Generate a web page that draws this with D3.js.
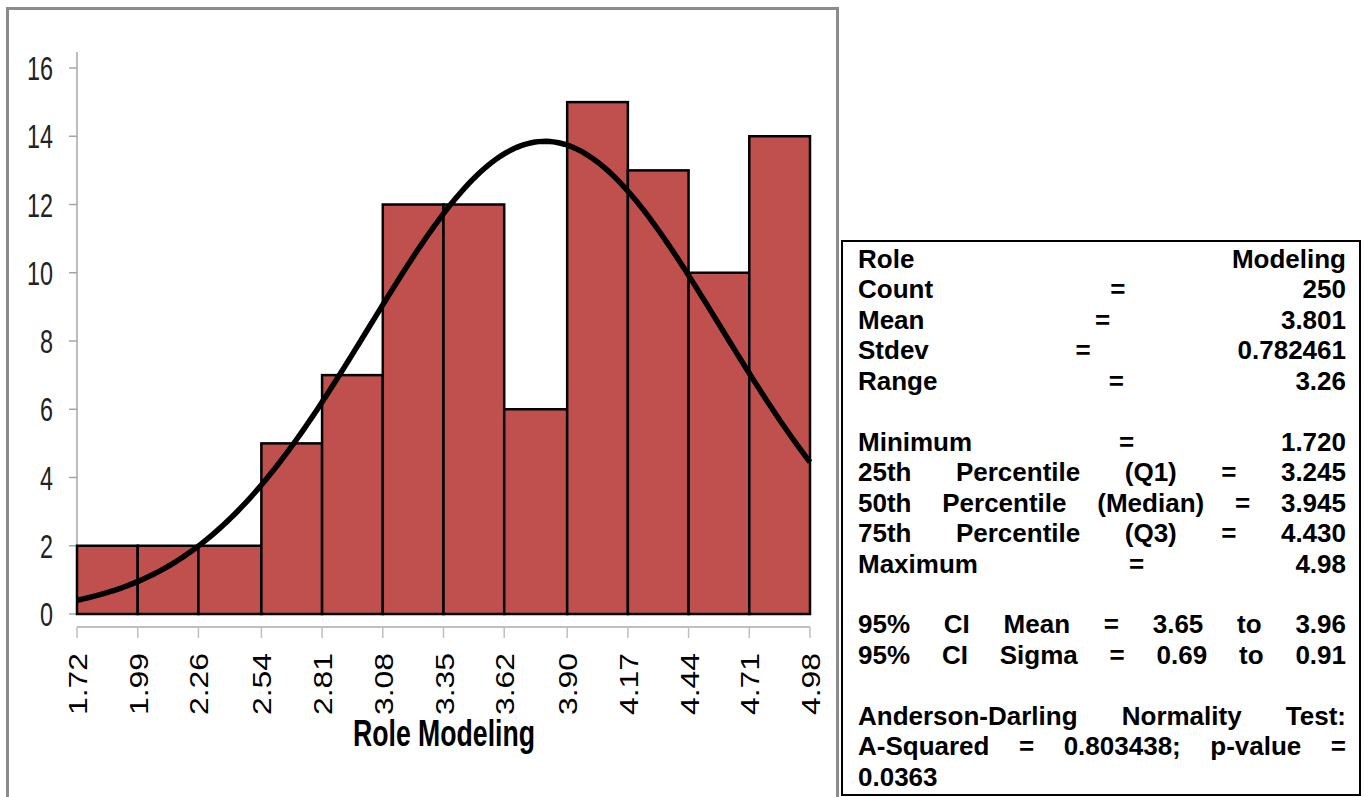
<!DOCTYPE html>
<html>
<head>
<meta charset="utf-8">
<script src="https://cdn.jsdelivr.net/npm/d3@7"></script>
<style>
  body { margin: 0; background: #fff; }
  svg { display: block; }
</style>
</head>
<body>
<svg id="chart" width="1364" height="797"></svg>
<script>
// histogram data
const binEdges = [1.72, 1.99, 2.26, 2.54, 2.81, 3.08, 3.35, 3.62, 3.90, 4.17, 4.44, 4.71, 4.98];
const tickLabels = ["1.72", "1.99", "2.26", "2.54", "2.81", "3.08", "3.35", "3.62", "3.90", "4.17", "4.44", "4.71", "4.98"];
const counts = [2, 2, 2, 5, 7, 12, 12, 6, 15, 13, 10, 14];
const yTicks = [0, 2, 4, 6, 8, 10, 12, 14, 16];
const fitMean = 3.801,
      fitStdev = 0.782461;

// summary box, one entry per printed line ("" = blank line)
const statLines = [
  "Role Modeling",
  "Count = 250",
  "Mean = 3.801",
  "Stdev = 0.782461",
  "Range = 3.26",
  "",
  "Minimum = 1.720",
  "25th Percentile (Q1) = 3.245",
  "50th Percentile (Median) = 3.945",
  "75th Percentile (Q3) = 4.430",
  "Maximum = 4.98",
  "",
  "95% CI Mean = 3.65 to 3.96",
  "95% CI Sigma = 0.69 to 0.91",
  "",
  "Anderson-Darling Normality Test:",
  "A-Squared = 0.803438; p-value =",
  "0.0363"
];

let svg = d3.select("#chart"),
    barColor = "#c0504d",
    axisColor = "#a6a6a6",
    sansFont = "'Liberation Sans', Arial, sans-serif";

// gray frame round the chart
svg.append("rect")
   .attr("x", 7.5).attr("y", 8.5)
   .attr("width", 830).attr("height", 800)
   .attr("fill", "none")
   .attr("stroke", "#8c8c8c")
   .attr("stroke-width", 3);

var x = d3.scaleLinear().domain([binEdges[0], binEdges[binEdges.length - 1]]).range([77, 810]);
var y = d3.scaleLinear().domain([0, 16]).range([614, 68]);

// y axis
let gy = svg.append("g");
gy.append("line")
  .attr("x1", 77).attr("x2", 77)
  .attr("y1", 52).attr("y2", y(0))
  .attr("stroke", axisColor).attr("stroke-width", 1.5);
gy.selectAll(".ytick")
  .data(yTicks)
  .enter()
  .append("line")
  .attr("x1", 69).attr("x2", 77)
  .attr("y1", d => y(d)).attr("y2", d => y(d))
  .attr("stroke", axisColor).attr("stroke-width", 1.5);
gy.selectAll(".ylab")
  .data(yTicks)
  .enter()
  .append("text")
  .attr("x", 53)
  .attr("y", d => y(d))
  .attr("dy", "0.36em")
  .attr("text-anchor", "end")
  .style("font-family", sansFont)
  .style("font-size", "34px")
  .attr("textLength", d => String(d).length * 13)
  .attr("lengthAdjust", "spacingAndGlyphs")
  .attr("fill", "#222")
  .text(d => d);

// bars
let bins = counts.map((c, i) => ({x0: binEdges[i], x1: binEdges[i + 1], n: c}));
svg.selectAll(".bar")
   .data(bins)
   .enter()
   .append("rect")
   .attr("class", "bar")
   .attr("x", d => x(d.x0))
   .attr("y", d => y(d.n))
   .attr("width", d => x(d.x1) - x(d.x0))
   .attr("height", d => y(0) - y(d.n))
   .attr("fill", barColor)
   .attr("stroke", "#000")
   .attr("stroke-width", 2.5);

// x axis sits a bit below the bars
let gx = svg.append("g");
gx.append("line")
  .attr("x1", x(binEdges[0])).attr("x2", x(binEdges[binEdges.length - 1]))
  .attr("y1", 627).attr("y2", 627)
  .attr("stroke", "#bfbfbf").attr("stroke-width", 2);
gx.selectAll(".xtick")
  .data(binEdges)
  .enter()
  .append("line")
  .attr("x1", d => x(d)).attr("x2", d => x(d))
  .attr("y1", 627).attr("y2", 638)
  .attr("stroke", "#bfbfbf").attr("stroke-width", 1.5);
gx.selectAll(".xlab")
  .data(binEdges)
  .enter()
  .append("text")
  .attr("transform", d => "translate(" + (x(d) + 1) + ",653) rotate(-90)")
  .attr("dy", "0.36em")
  .attr("text-anchor", "end")
  .style("font-family", sansFont)
  .style("font-size", "25px")
  .attr("textLength", 62)
  .attr("lengthAdjust", "spacingAndGlyphs")
  .attr("fill", "#000")
  .text((d, i) => tickLabels[i]);

svg.append("text")
   .attr("x", 444)
   .attr("y", 746)
   .attr("text-anchor", "middle")
   .style("font-family", sansFont)
   .style("font-size", "37px")
   .style("font-weight", "bold")
   .attr("textLength", 182)
   .attr("lengthAdjust", "spacingAndGlyphs")
   .text("Role Modeling");

// fitted normal curve, scaled to counts
let total = d3.sum(counts),
    binWidth = (binEdges[binEdges.length - 1] - binEdges[0]) / counts.length;
let curvePts = d3.range(0, 201).map(i => {
  let v = binEdges[0] + i * (binEdges[binEdges.length - 1] - binEdges[0]) / 200;
  let z = (v - fitMean) / fitStdev;
  return [v, total * binWidth * Math.exp(-0.5 * z * z) / (fitStdev * Math.sqrt(2 * Math.PI))];
});
svg.append("path")
   .datum(curvePts)
   .attr("fill", "none")
   .attr("stroke", "#000")
   .attr("stroke-width", 5.5)
   .attr("d", d3.line().x(d => x(d[0])).y(d => y(d[1])));

// stats box with justified lines
svg.append("rect")
   .attr("x", 842).attr("y", 241)
   .attr("width", 518).attr("height", 554)
   .attr("fill", "#fff")
   .attr("stroke", "#000")
   .attr("stroke-width", 2);

let left = 858, right = 1346, lineH = 30.45, firstBase = 268;
let gs = svg.append("g")
            .style("font-family", sansFont)
            .style("font-size", "26px")
            .style("font-weight", "bold");

statLines.forEach(function(line, i) {
  if (line === "") return;
  let words = line.split(" ");
  let base = firstBase + i * lineH;
  let nodes = words.map(w => gs.append("text").attr("y", base).text(w));
  let widths = nodes.map(n => n.node().getComputedTextLength());
  let last = i === statLines.length - 1;
  let gap = (words.length > 1 && !last) ? (right - left - d3.sum(widths)) / (words.length - 1) : 7;
  let cx = left;
  nodes.forEach(function(n, j) {
    n.attr("x", cx);
    cx += widths[j] + gap;
  });
});
</script>
</body>
</html>
